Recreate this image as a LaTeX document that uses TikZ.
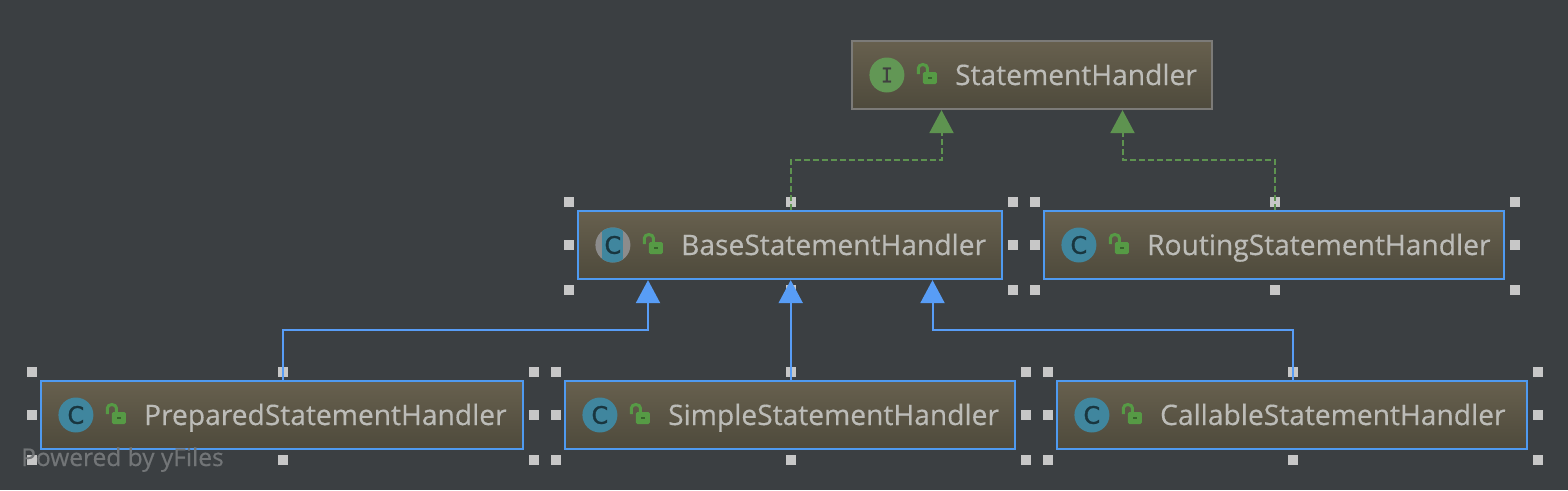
\documentclass[tikz,border=0pt]{standalone}
\usepackage{fontspec}
\setmainfont[FakeBold=0.4]{Open Sans}
\newfontfamily\iconfont[FakeBold=1.2]{DejaVu Sans}
\newfontfamily\ifacefont[FakeBold=0.8]{DejaVu Sans Mono}
\usetikzlibrary{arrows.meta,positioning}

\definecolor{canvas}{HTML}{3B3F42}
\definecolor{boxtop}{HTML}{67604E}
\definecolor{boxbot}{HTML}{4E4A3C}
\definecolor{selblue}{HTML}{4F9AF0}
\definecolor{extblue}{HTML}{589DF6}
\definecolor{implgreen}{HTML}{5E9350}
\definecolor{lockgreen}{HTML}{569A45}
\definecolor{labelgray}{HTML}{BCBCB8}
\definecolor{classteal}{HTML}{40869E}
\definecolor{ifacegreen}{HTML}{629755}

\newcommand{\handles}[1]{%
  \foreach \a/\dx/\dy in {north west/-7.5/-7.5, north/0.7/-7.5, north east/9.5/-7.5, west/-7.5/0, east/9.5/0, south west/-7.5/9.5, south/0.7/9.5, south east/9.5/9.5}
    \node[handle] (#1-h-\a) at ([xshift=\dx pt,yshift=-\dy pt]#1.\a) {};
}

\begin{document}
\begin{tikzpicture}[
  x=1pt, y=-1pt,
  cls/.style={draw=selblue, line width=2.2pt, top color=boxtop, bottom color=boxbot, minimum height=68pt, inner sep=0pt},
  iface/.style={cls, draw=gray!85!boxtop},
  clsname/.style={anchor=base west, inner sep=0pt, text=labelgray, font=\fontsize{28.2}{30}\selectfont},
  handle/.style={fill=black!22, minimum size=10pt, inner sep=0pt},
  impl/.style={-{Triangle[length=23pt,width=24pt]}, implgreen, line width=2pt, dash pattern=on 6pt off 3pt},
  ext/.style={-{Triangle[length=23pt,width=24pt]}, extblue, line width=2pt},
  lockicon/.pic={
    \fill[lockgreen, rounded corners=1.5pt] (6,-3) rectangle (20,9);
    \fill[black!35!lockgreen] (11,2) rectangle (15,4);
    \draw[lockgreen, line width=3pt] (1.5,-1) -- (1.5,-7) arc[start angle=180, end angle=0, x radius=4.5, y radius=-3.5] -- (10.5,-3);
  },
  classicon/.pic={
    \node[circle, fill=classteal, minimum size=35pt, inner sep=0pt, text=black!60!classteal, font=\iconfont\fontsize{24}{24}\selectfont] (-c) at (0,0) {C};
  },
  abstracticon/.pic={
    \fill[black!45!white] (0,0) circle[radius=17.5];
    \begin{scope}
      \clip (0,0) circle[radius=17.5];
      \fill[classteal] (-10.5,-18) rectangle (10.5,18);
    \end{scope}
    \node[inner sep=0pt, text=black!60!classteal, font=\iconfont\fontsize{24}{24}\selectfont] (-c) at (0,0) {C};
  },
  ifaceicon/.pic={
    \node[circle, fill=ifacegreen, minimum size=35pt, inner sep=0pt, text=black!75, font=\ifacefont\fontsize{20}{20}\selectfont] (-c) at (0,0) {I};
  }
]
\useasboundingbox (0,0) rectangle (1568,490);
\fill[canvas] (0,0) rectangle (1568,490);

\node[iface, minimum width=360pt] (stmt) at (1032,75) {};
\node[cls, minimum width=424pt] (base) at (790,245) {};
\node[cls, minimum width=460pt] (routing) at (1274,245) {};
\node[cls, minimum width=482pt] (prepared) at (282,415) {};
\node[cls, minimum width=450pt] (simple) at (790,415) {};
\node[cls, minimum width=470pt] (callable) at (1292,415) {};

\handles{base}
\handles{routing}
\handles{prepared}
\handles{simple}
\handles{callable}

\pic (stmticon) at ([xshift=36pt]stmt.west) {ifaceicon};
\pic (baseicon) at ([xshift=36pt]base.west) {abstracticon};
\pic (routingicon) at ([xshift=36pt]routing.west) {classicon};
\pic (preparedicon) at ([xshift=36pt]prepared.west) {classicon};
\pic (simpleicon) at ([xshift=36pt]simple.west) {classicon};
\pic (callableicon) at ([xshift=36pt]callable.west) {classicon};

\pic at ([xshift=66pt]stmt.west) {lockicon};
\pic at ([xshift=66pt]base.west) {lockicon};
\pic at ([xshift=66pt]routing.west) {lockicon};
\pic at ([xshift=66pt]prepared.west) {lockicon};
\pic at ([xshift=66pt]simple.west) {lockicon};
\pic at ([xshift=66pt]callable.west) {lockicon};

\node[clsname] (stmtname) at ([xshift=104pt,yshift=-10pt]stmt.west) {StatementHandler};
\node[clsname] (basename) at ([xshift=104pt,yshift=-10pt]base.west) {BaseStatementHandler};
\node[clsname] (routingname) at ([xshift=104pt,yshift=-10pt]routing.west) {RoutingStatementHandler};
\node[clsname] (preparedname) at ([xshift=104pt,yshift=-10pt]prepared.west) {PreparedStatementHandler};
\node[clsname] (simplename) at ([xshift=104pt,yshift=-10pt]simple.west) {SimpleStatementHandler};
\node[clsname] (callablename) at ([xshift=104pt,yshift=-10pt]callable.west) {CallableStatementHandler};

\draw[impl] ([xshift=.7pt]base.north) -- ++(0,-50) -| ([xshift=-90.5pt]stmt.south);
\draw[impl] ([xshift=.7pt]routing.north) -- ++(0,-50) -| ([xshift=90.5pt]stmt.south);
\draw[ext] ([xshift=.7pt]prepared.north) -- ++(0,-50) -| ([xshift=-142pt]base.south);
\draw[ext] ([xshift=.7pt]simple.north) -- ([xshift=.7pt]base.south);
\draw[ext] ([xshift=.7pt]callable.north) -- ++(0,-50) -| ([xshift=142.5pt]base.south);

\node[anchor=base west, inner sep=0pt, text=white!28!canvas, font=\fontsize{24.5}{26}\selectfont] (yfiles) at (21,466) {Powered by yFiles};
\end{tikzpicture}
\end{document}
